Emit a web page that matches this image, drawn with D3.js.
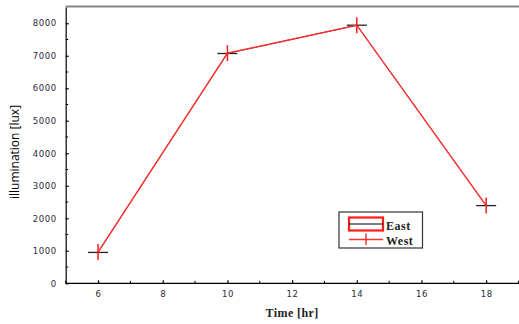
<!DOCTYPE html>
<html>
<head>
<meta charset="utf-8">
<script src="https://d3js.org/d3.v7.min.js"></script>
<title>Illumination</title>
<style>
body { margin: 0; background: #fff; }
</style>
</head>
<body>
<svg id="canvas" width="519" height="324"></svg>
<script>
// chart values
var hours = [6, 10, 14, 18];
var east = [950, 7070, 7940, 2390];
var west = [960, 7080, 7940, 2390];
var xTicks = [6, 8, 10, 12, 14, 16, 18];
var yTicks = [0, 1000, 2000, 3000, 4000, 5000, 6000, 7000, 8000];
var seriesNames = ["East", "West"];

var svg = d3.select("#canvas");
// plot edges (note: "top" is taken by window.top, so use other names)
var plotLeft = 65.7, plotRight = 518.5, plotTop = 7, plotBottom = 283.3;

var x = d3.scaleLinear().domain([5, 19]).range([plotLeft, plotRight]);
var y = d3.scaleLinear().domain([0, 8500]).range([plotBottom, plotTop]);

// top frame line
svg.append("line")
   .attr("x1", plotLeft).attr("x2", 519)
   .attr("y1", plotTop - 0.5).attr("y2", plotTop - 0.5)
   .attr("stroke", "#858585").attr("stroke-width", 2);

// axes: ticks point into the plot
var xAxis = d3.axisBottom(x).tickValues(xTicks).tickSizeInner(-3).tickSizeOuter(0)
              .tickPadding(8).tickFormat(d3.format("d"));
var yAxis = d3.axisLeft(y).tickValues(yTicks).tickSizeInner(-3).tickSizeOuter(0)
              .tickPadding(9).tickFormat(d3.format("d"));

var gx = svg.append("g").attr("transform", "translate(0," + plotBottom + ")").call(xAxis);
var gy = svg.append("g").attr("transform", "translate(" + plotLeft + ",0)").call(yAxis);
gx.select(".domain").attr("d", "M" + plotLeft + ",0H519");

// minor ticks
var xMinor = d3.range(5, 20, 1).filter(function(d) { return xTicks.indexOf(d) < 0; });
var yMinor = d3.range(500, 8500, 1000);
gx.selectAll(".minor").data(xMinor).enter().append("line")
  .attr("x1", function(d) { return x(d); }).attr("x2", function(d) { return x(d); })
  .attr("y1", 0).attr("y2", -2.5).attr("stroke", "#000");
gy.selectAll(".minor").data(yMinor).enter().append("line")
  .attr("y1", function(d) { return y(d); }).attr("y2", function(d) { return y(d); })
  .attr("x1", 0).attr("x2", 2.5).attr("stroke", "#000");

svg.selectAll(".tick text")
   .style("font-family", "'DejaVu Sans', sans-serif")
   .style("font-size", "8.5px")
   .style("letter-spacing", "0.6px")
   .attr("fill", "#2a2a3a");
svg.selectAll(".domain, .tick line").attr("stroke", "#000").attr("stroke-width", 1.2);

// axis titles
svg.append("text")
   .attr("transform", "translate(19,152) rotate(-90)")
   .attr("text-anchor", "middle")
   .style("font-family", "'Open Sans', 'Liberation Sans', sans-serif")
   .style("font-size", "12px")
   .text("illumination [lux]");
svg.append("text")
   .attr("x", x(12)).attr("y", 317)
   .attr("text-anchor", "middle")
   .style("font-family", "'Liberation Serif', serif")
   .style("font-size", "12px")
   .style("font-weight", "bold")
   .style("letter-spacing", "0.4px")
   .attr("fill", "#222")
   .text("Time [hr]");

var line = d3.line()
   .x(function(d) { return x(d[0]); })
   .y(function(d) { return y(d[1]); });

var eastPts = hours.map(function(h, i) { return [h, east[i]]; });
var westPts = hours.map(function(h, i) { return [h, west[i]]; });

// East: thin black line with horizontal dash markers
svg.append("path").datum(eastPts).attr("d", line)
   .attr("fill", "none").attr("stroke", "#111").attr("stroke-width", 0.8);
svg.selectAll(".eastMark").data(eastPts).enter().append("line")
   .attr("x1", function(d) { return x(d[0]) - 10; })
   .attr("x2", function(d) { return x(d[0]) + 10; })
   .attr("y1", function(d) { return y(d[1]); })
   .attr("y2", function(d) { return y(d[1]); })
   .attr("stroke", "#222").attr("stroke-width", 1.3);

// West: red line with vertical tick markers
svg.append("path").datum(westPts).attr("d", line)
   .attr("fill", "none").attr("stroke", "#ff2f2f").attr("stroke-width", 1.4);
svg.selectAll(".westMark").data(westPts).enter().append("line")
   .attr("x1", function(d) { return x(d[0]); })
   .attr("x2", function(d) { return x(d[0]); })
   .attr("y1", function(d) { return y(d[1]) - 8; })
   .attr("y2", function(d) { return y(d[1]) + 8; })
   .attr("stroke", "#ff1a1a").attr("stroke-width", 1.5);

// legend
var lg = svg.append("g").attr("transform", "translate(339,212)");
lg.append("rect").attr("width", 83.5).attr("height", 36)
  .attr("fill", "#fff").attr("stroke", "#333").attr("stroke-width", 1.2);
lg.append("rect").attr("x", 10).attr("y", 5.5).attr("width", 34).attr("height", 13)
  .attr("fill", "#fff").attr("stroke", "#ff1a1a").attr("stroke-width", 2.2);
lg.append("line").attr("x1", 10).attr("x2", 44).attr("y1", 12).attr("y2", 12)
  .attr("stroke", "#000").attr("stroke-width", 1);
lg.append("line").attr("x1", 10).attr("x2", 44).attr("y1", 27.5).attr("y2", 27.5)
  .attr("stroke", "#ff3030").attr("stroke-width", 1.3);
lg.append("line").attr("x1", 27).attr("x2", 27).attr("y1", 21.5).attr("y2", 33)
  .attr("stroke", "#ff1a1a").attr("stroke-width", 1.3);
lg.selectAll(".lt").data(seriesNames).enter().append("text")
  .attr("x", 47).attr("y", function(d, i) { return 17.5 + i * 15.5; })
  .style("font-family", "'Liberation Serif', serif")
  .style("font-size", "12px")
  .style("font-weight", "bold")
  .style("letter-spacing", "0.5px")
  .attr("fill", "#222")
  .text(function(d) { return d; });
</script>
</body>
</html>
